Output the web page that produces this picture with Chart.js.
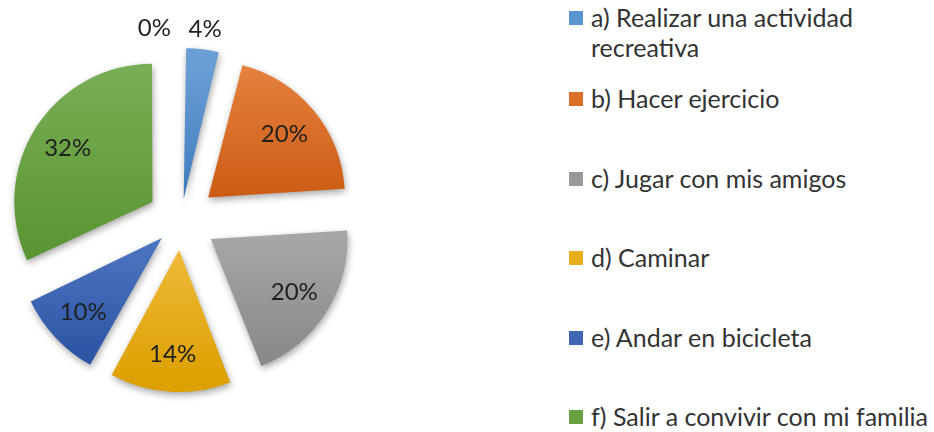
<!DOCTYPE html>
<html>
<head>
<meta charset="utf-8">
<script src="https://cdn.jsdelivr.net/npm/chart.js@4"></script>
<style>
  html, body { margin: 0; background: #fff; }
  #wrap { position: relative; width: 934px; height: 432px; overflow: hidden; }
  #pie { position: absolute; left: 0; top: 0; }
  #legend { position: absolute; left: 569px; top: 2px; font-family: Lato, sans-serif; font-size: 25px; color: #333; }
  .item { display: flex; align-items: flex-start; height: 79.5px; line-height: 30px; white-space: nowrap; }
  .item:first-child { height: 81px; }
  .box { width: 14px; height: 14px; margin: 9px 8px 0 0; flex: none; }
</style>
</head>
<body>
<div id="wrap">
  <canvas id="pie" width="362" height="432"></canvas>
  <div id="legend"></div>
</div>
<script>
// ========================
// DATA
// ========================
const categories = [
  ["a) Realizar una actividad", "recreativa"],
  ["b) Hacer ejercicio"],
  ["c) Jugar con mis amigos"],
  ["d) Caminar"],
  ["e) Andar en bicicleta"],
  ["f) Salir a convivir con mi familia"],
  [""]
];
const shares = [4, 20, 20, 14, 10, 32, 0];

const topColors = ["#6A9FD6", "#E5803F", "#A8A8A8", "#F0B93A", "#4D76C2", "#78AE55", "#999"];
const bottomColors = ["#3F7BBE", "#CC5C14", "#888888", "#DCA000", "#2D55A5", "#5A9431", "#999"];
const legendColors = ["#5B93CF", "#DD6E27", "#999999", "#E8AE17", "#3F67B6", "#68A042"];

const EXPLODE = 37;
const RADIUS = 135;
const total = shares.reduce((a, b) => a + b, 0);

// ========================
// LEGEND
// ========================
const legend = document.getElementById("legend");
categories.forEach((lines, i) => {
  if (!lines[0]) return;
  const row = document.createElement("div");
  row.className = "item";
  row.innerHTML =
    '<span class="box" style="background:' + legendColors[i] + '"></span><span>' +
    lines.join("<br>") + "</span>";
  legend.appendChild(row);
});

// ========================
// HELPERS
// ========================
function sliceFill(c) {
  const chart = c.chart;
  const area = chart.chartArea;
  const i = c.dataIndex;
  if (!area) return topColors[i];
  const cy = (area.top + area.bottom) / 2;
  const before = shares.slice(0, i).reduce((a, b) => a + b, 0);
  const a0 = -Math.PI / 2 + (before / total) * 2 * Math.PI;
  const a1 = a0 + (shares[i] / total) * 2 * Math.PI;
  let ymin = cy, ymax = cy;
  for (let k = 0; k <= 24; k++) {
    const yy = cy + Math.sin(a0 + ((a1 - a0) * k) / 24) * RADIUS;
    ymin = Math.min(ymin, yy);
    ymax = Math.max(ymax, yy);
  }
  const g = chart.ctx.createLinearGradient(0, ymin, 0, ymax + 0.01);
  g.addColorStop(0, topColors[i]);
  g.addColorStop(1, bottomColors[i]);
  return g;
}

// chart.js v4 scales the offset by 1/4 and a size fix, undo that so every slice moves the same
function sliceOffset(c) {
  const circ = (shares[c.dataIndex] / total) * 2 * Math.PI;
  const fix = 1 - Math.sin(Math.min(Math.PI, circ));
  return (EXPLODE * 4) / (1 + fix);
}

const shadow = {
  id: "shadow",
  beforeDatasetsDraw(chart) {
    const ctx = chart.ctx;
    ctx.save();
    ctx.shadowColor = "rgba(0,0,0,0.35)";
    ctx.shadowBlur = 7;
    ctx.shadowOffsetX = 1;
    ctx.shadowOffsetY = 3;
  },
  afterDatasetsDraw(chart) {
    chart.ctx.restore();
  }
};

const pctLabels = {
  id: "pctLabels",
  afterDatasetsDraw(chart) {
    const ctx = chart.ctx;
    const meta = chart.getDatasetMeta(0);
    ctx.save();
    ctx.font = "24px Lato";
    ctx.fillStyle = "#1f1f1f";
    ctx.textBaseline = "middle";
    meta.data.forEach((arc, i) => {
      const v = shares[i];
      const p = arc.getProps(["x", "y", "startAngle", "endAngle", "outerRadius"], true);
      const mid = (p.startAngle + p.endAngle) / 2;
      let r = EXPLODE + p.outerRadius * 0.72;
      let dx = 0;
      ctx.textAlign = "center";
      if (v < 5) {
        r = EXPLODE + p.outerRadius + 20;
        if (v === 0) {
          ctx.textAlign = "right";
          dx = -10;
        }
      }
      ctx.fillText(v + "%", p.x + Math.cos(mid) * r + dx, p.y + Math.sin(mid) * r);
    });
    ctx.restore();
  }
};

// ========================
// CHART
// ========================
new Chart(document.getElementById("pie"), {
  type: "pie",
  data: {
    labels: categories,
    datasets: [
      {
        data: shares,
        backgroundColor: sliceFill,
        borderWidth: 0,
        offset: sliceOffset,
        radius: RADIUS
      }
    ]
  },
  options: {
    responsive: false,
    animation: false,
    layout: { padding: { top: 8 } },
    plugins: {
      legend: { display: false },
      tooltip: { enabled: false }
    }
  },
  plugins: [shadow, pctLabels]
});
</script>
</body>
</html>
